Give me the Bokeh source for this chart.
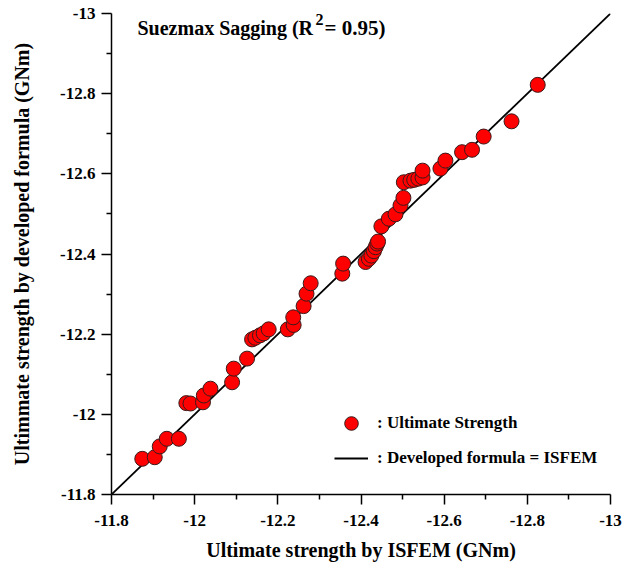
from bokeh.plotting import figure
from bokeh.models import Range1d, FixedTicker, Label, Legend, LegendItem, ColumnDataSource
from bokeh.embed import file_html
from bokeh.resources import INLINE

# Ultimate strength by ISFEM (GNm) vs developed formula (GNm)
isfem = [-11.874, -11.904, -11.916, -11.933, -11.962, -11.980, -11.990, -12.020, -12.022,
         -12.038, -12.090, -12.094, -12.126, -12.138, -12.146, -12.157, -12.166, -12.178,
         -12.224, -12.238, -12.237, -12.262, -12.269, -12.279, -12.355, -12.357, -12.411,
         -12.419, -12.425, -12.431, -12.435, -12.439, -12.441, -12.449, -12.467, -12.483,
         -12.495, -12.502, -12.503, -12.519, -12.528, -12.538, -12.548, -12.548, -12.591,
         -12.603, -12.643, -12.667, -12.695, -12.762, -12.825]
formula = [-11.889, -11.893, -11.920, -11.939, -11.939, -12.028, -12.027, -12.030, -12.047,
           -12.064, -12.080, -12.114, -12.139, -12.187, -12.191, -12.197, -12.202, -12.212,
           -12.212, -12.223, -12.242, -12.270, -12.301, -12.327, -12.351, -12.376, -12.380,
           -12.388, -12.396, -12.407, -12.417, -12.426, -12.431, -12.469, -12.488, -12.499,
           -12.521, -12.540, -12.579, -12.583, -12.585, -12.588, -12.591, -12.608, -12.613,
           -12.633, -12.654, -12.660, -12.693, -12.731, -12.822]

line_vals = [-11.8, -13.0]
major_ticks = [-11.8, -12.0, -12.2, -12.4, -12.6, -12.8, -13.0]
tick_labels = ["-11.8", "-12", "-12.2", "-12.4", "-12.6", "-12.8", "-13"]
minor_ticks = [-11.9, -12.1, -12.3, -12.5, -12.7, -12.9]

FONT = "Liberation Serif"

p = figure(width=635, height=572, x_range=Range1d(-11.8, -13.0), y_range=Range1d(-11.8, -13.0),
           output_backend="svg", toolbar_location=None,
           min_border_left=111, min_border_right=25, min_border_top=13, min_border_bottom=78)
p.outline_line_color = None
p.xgrid.visible = False
p.ygrid.visible = False
p.background_fill_color = "white"
p.border_fill_color = "white"

ln = p.line(line_vals, line_vals, line_color="black", line_width=1.8)
src = ColumnDataSource(dict(x=isfem, y=formula))
sc = p.scatter("x", "y", source=src, size=15, fill_color="#FF0000", line_color="#3a1a1a",
               line_width=1)

overrides = {t: l for t, l in zip(major_ticks, tick_labels)}
for ax in (p.xaxis[0], p.yaxis[0]):
    ax.ticker = FixedTicker(ticks=major_ticks, minor_ticks=minor_ticks)
    ax.major_label_overrides = overrides
    ax.major_label_text_font = FONT
    ax.major_label_text_font_style = "bold"
    ax.major_label_text_font_size = "17px"
    ax.major_label_text_color = "black"
    ax.axis_label_text_font = FONT
    ax.axis_label_text_font_style = "bold"
    ax.axis_label_text_font_size = "20px"
    ax.axis_label_text_color = "black"
    ax.axis_line_color = "black"
    ax.axis_line_width = 1.5
    ax.major_tick_line_color = "black"
    ax.minor_tick_line_color = "black"
    ax.major_tick_line_width = 1.5
    ax.minor_tick_line_width = 1.5
    ax.major_tick_in = 0
    ax.minor_tick_in = 0
    ax.major_tick_out = 10
    ax.minor_tick_out = 5

p.xaxis.axis_label = "Ultimate strength by ISFEM (GNm)"
p.yaxis.axis_label = "Ultimmate strength by developed formula (GNm)"
p.xaxis.major_label_standoff = 10
p.yaxis.major_label_standoff = 6
p.xaxis.axis_label_standoff = 10
p.yaxis.axis_label_standoff = 24

# Title text with superscript (screen offsets from the frame's bottom-left)
for txt, xs, ys, fs in [("Suezmax Sagging (R", 26, 467, "20px"),
                        ("2", 204, 475, "16px"),
                        (" = 0.95)", 213, 467, "21px")]:
    p.add_layout(Label(x=xs, y=ys, x_units="screen", y_units="screen", text=txt,
                       text_font=FONT, text_font_style="bold", text_font_size=fs,
                       text_color="black", text_baseline="alphabetic"))

legend = Legend(items=[LegendItem(label=": Ultimate Strength", renderers=[sc]),
                       LegendItem(label=": Developed formula = ISFEM", renderers=[ln])],
                location=(223, 19), border_line_color=None, background_fill_alpha=0,
                padding=0, margin=0, spacing=1, glyph_width=34, glyph_height=34,
                label_standoff=9, label_text_font=FONT, label_text_font_style="bold",
                label_text_font_size="17px", label_text_color="black")
p.add_layout(legend, "center")

open("out.html", "w").write(file_html(p, INLINE))
